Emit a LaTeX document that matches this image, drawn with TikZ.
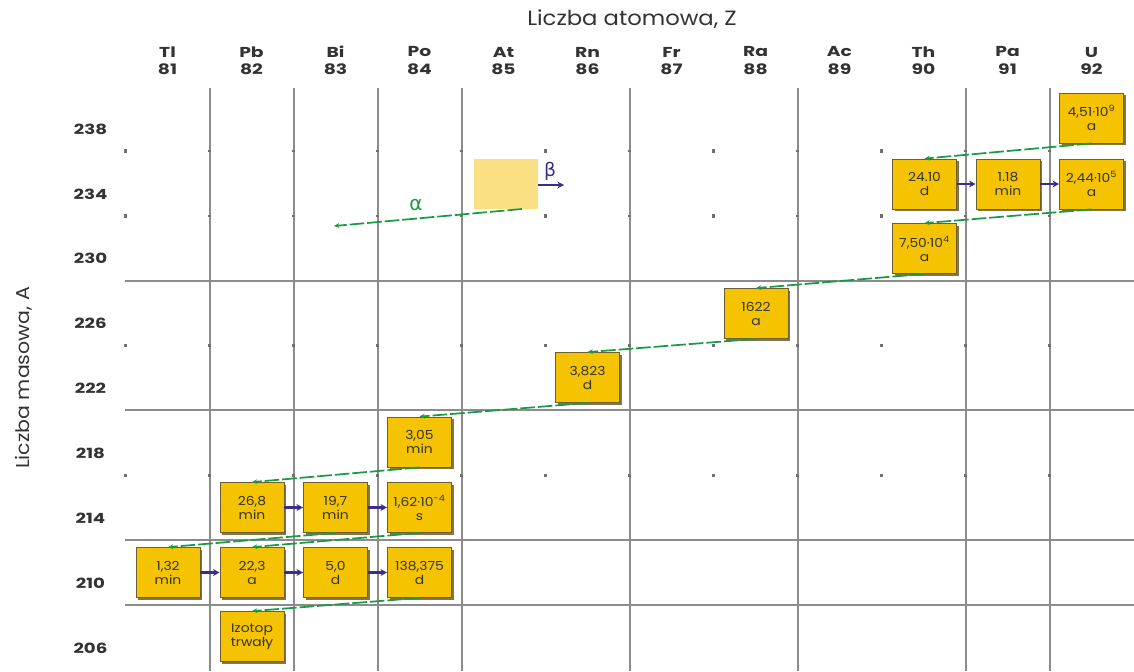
\documentclass[tikz,border=0pt]{standalone}
\usepackage{fontspec}
\setmainfont{Poppins}
\newfontfamily\greekfont{DejaVu Sans}
\newfontfamily\boxfont[FakeStretch=1.12]{Poppins}
\newfontfamily\numfont[FakeStretch=1.3]{Poppins}
\newfontfamily\titlefont[FakeStretch=1.1]{Poppins}
\usetikzlibrary{arrows.meta,shadows}
\definecolor{boxfill}{HTML}{F5C300}
\definecolor{boxedge}{HTML}{6E5E30}
\definecolor{boxshadow}{HTML}{85764A}
\definecolor{gridgray}{HTML}{8C8C8C}
\definecolor{dotgray}{HTML}{707070}
\definecolor{alphagreen}{HTML}{1B9A45}
\definecolor{betablue}{HTML}{3B2D8C}
\definecolor{legendfill}{HTML}{FAE083}
\definecolor{txt}{HTML}{333333}
\begin{document}
\begin{tikzpicture}[x=0.75pt,y=-0.75pt,
  iso/.style={draw=boxedge, line width=0.6pt, fill=boxfill,
    minimum width=48pt, minimum height=37.5pt, inner sep=0pt, align=center,
    font=\boxfont\fontsize{9.3}{10.5}\selectfont, text=txt,
    drop shadow={shadow xshift=1.5pt, shadow yshift=-1.5pt, opacity=1, fill=boxshadow}},
  legendbox/.style={fill=legendfill, draw=none, minimum width=48pt, minimum height=37pt, inner sep=0pt},
  gridline/.style={draw=gridgray, line width=1.5pt},
  alphaarrow/.style={draw=alphagreen, line width=1.3pt, dash pattern=on 11pt off 2.2pt,
    -{Stealth[length=4pt,width=3.6pt]}},
  betaarrow/.style={draw=betablue, line width=1.8pt, -{Stealth[length=5pt,width=5.2pt]}},
  elem/.style={font=\numfont\fontsize{10.8}{12}\selectfont\bfseries, text=txt, inner sep=0pt},
  massno/.style={font=\numfont\fontsize{10.5}{11}\selectfont\bfseries, text=txt, inner sep=0pt},
  axistitle/.style={font=\titlefont\fontsize{15.5}{17}\selectfont, text=txt, inner sep=0pt},
  griddot/.style={fill=dotgray, draw=none, minimum size=2.4pt, inner sep=0pt}]
\useasboundingbox (0,0) rectangle (1134,671);

% axis titles
\node[axistitle] (ztitle) at (632,19) {Liczba atomowa, Z};
\node[axistitle, font=\titlefont\fontsize{14}{16}\selectfont, rotate=90] (atitle) at (24,378) {Liczba masowa, A};

% element headers
\foreach \s/\z [count=\i from 0] in {Tl/81,Pb/82,Bi/83,Po/84,At/85,Rn/86,Fr/87,Ra/88,Ac/89,Th/90,Pa/91,U/92}{
  \node[elem] (sym\z) at ({167.5+84*\i},52) {\s};
  \node[elem] (num\z) at ({167.5+84*\i},69) {\z};
}

% mass numbers
\foreach \a [count=\i from 0] in {238,234,230,226,222,218,214,210,206}{
  \node[massno] (mass\a) at (90.5,{129+64.85*\i}) {\a};
}

% grid lines
\foreach \x in {209.5,293.5,377.5,461.5,629.5,797.5,965.5,1049.5}{
  \draw[gridline] (\x,88) -- (\x,671);
}
\foreach \y in {280.5,410.2,540,605}{
  \draw[gridline] (125,\y) -- (1134,\y);
}
% grid dots
\foreach \x in {125.5,545.5,713.5,881.5}{
  \foreach \y in {151,216,345.5,475.5}{
    \node[griddot] at (\x,\y) {};
  }
}
\foreach \x in {209.5,293.5,377.5,461.5,629.5,797.5,965.5,1049.5}{
  \foreach \y in {151,216,345.5,475.5}{
    \node[griddot, minimum size=1.6pt] at (\x,\y) {};
  }
}

% isotopes
\node[iso] (U238)  at (1091.5,118) {4,51·10\textsuperscript{9}\\a};
\node[iso] (U234)  at (1091.5,184) {2,44·10\textsuperscript{5}\\a};
\node[iso] (Th234) at (924.5,184)  {24.10\\d};
\node[iso] (Pa234) at (1008,184)   {1.18\\min};
\node[iso] (Th230) at (924.5,248.5){7,50·10\textsuperscript{4}\\a};
\node[iso] (Ra226) at (756,313.5)  {1622\\a};
\node[iso] (Rn222) at (587.5,377.5){3,823\\d};
\node[iso] (Po218) at (419.5,442)  {3,05\\min};
\node[iso] (Pb214) at (252,507.5)  {26,8\\min};
\node[iso] (Bi214) at (335.5,507.5){19,7\\min};
\node[iso] (Po214) at (419.5,507.5){1,62·10\textsuperscript{-4}\\s};
\node[iso] (Tl210) at (168,572.5)  {1,32\\min};
\node[iso] (Pb210) at (252,572.5)  {22,3\\a};
\node[iso] (Bi210) at (335.5,572.5){5,0\\d};
\node[iso] (Po210) at (419.5,572.5){138,375\\d};
\node[iso] (Pb206) at (252,636.5)  {Izotop\\trwały};

% alpha decays
\draw[alphaarrow] (U238.south)  -- (Th234.north);
\draw[alphaarrow] (U234.south)  -- (Th230.north);
\draw[alphaarrow] (Th230.south) -- (Ra226.north);
\draw[alphaarrow] (Ra226.south) -- (Rn222.north);
\draw[alphaarrow] (Rn222.south) -- (Po218.north);
\draw[alphaarrow] (Po218.south) -- (Pb214.north);
\draw[alphaarrow] (Po214.south) -- (Pb210.north);
\draw[alphaarrow] (Bi214.south) -- (Tl210.north);
\draw[alphaarrow] (Po210.south) -- (Pb206.north);

% beta decays
\draw[betaarrow] (Th234.east) -- (Pa234.west);
\draw[betaarrow] (Pa234.east) -- (U234.west);
\draw[betaarrow] (Pb214.east) -- (Bi214.west);
\draw[betaarrow] (Bi214.east) -- (Po214.west);
\draw[betaarrow] (Tl210.east) -- (Pb210.west);
\draw[betaarrow] (Pb210.east) -- (Bi210.west);
\draw[betaarrow] (Bi210.east) -- (Po210.west);

% legend
\node[legendbox] (legend) at (506,184) {};
\coordinate (betaend) at (564,185);
\draw[betaarrow] (legend.east |- betaend) -- (betaend);
\node[text=betablue, font=\greekfont\fontsize{14}{15}\selectfont, inner sep=0pt] (betalbl) at (550,171) {β};
\coordinate (alphastart) at (522,209);
\coordinate (alphaend) at (334,226);
\draw[alphaarrow] (alphastart) -- (alphaend);
\node[text=alphagreen, font=\greekfont\fontsize{15}{16}\selectfont, inner sep=0pt] (alphalbl) at (416,205) {α};
\end{tikzpicture}
\end{document}
